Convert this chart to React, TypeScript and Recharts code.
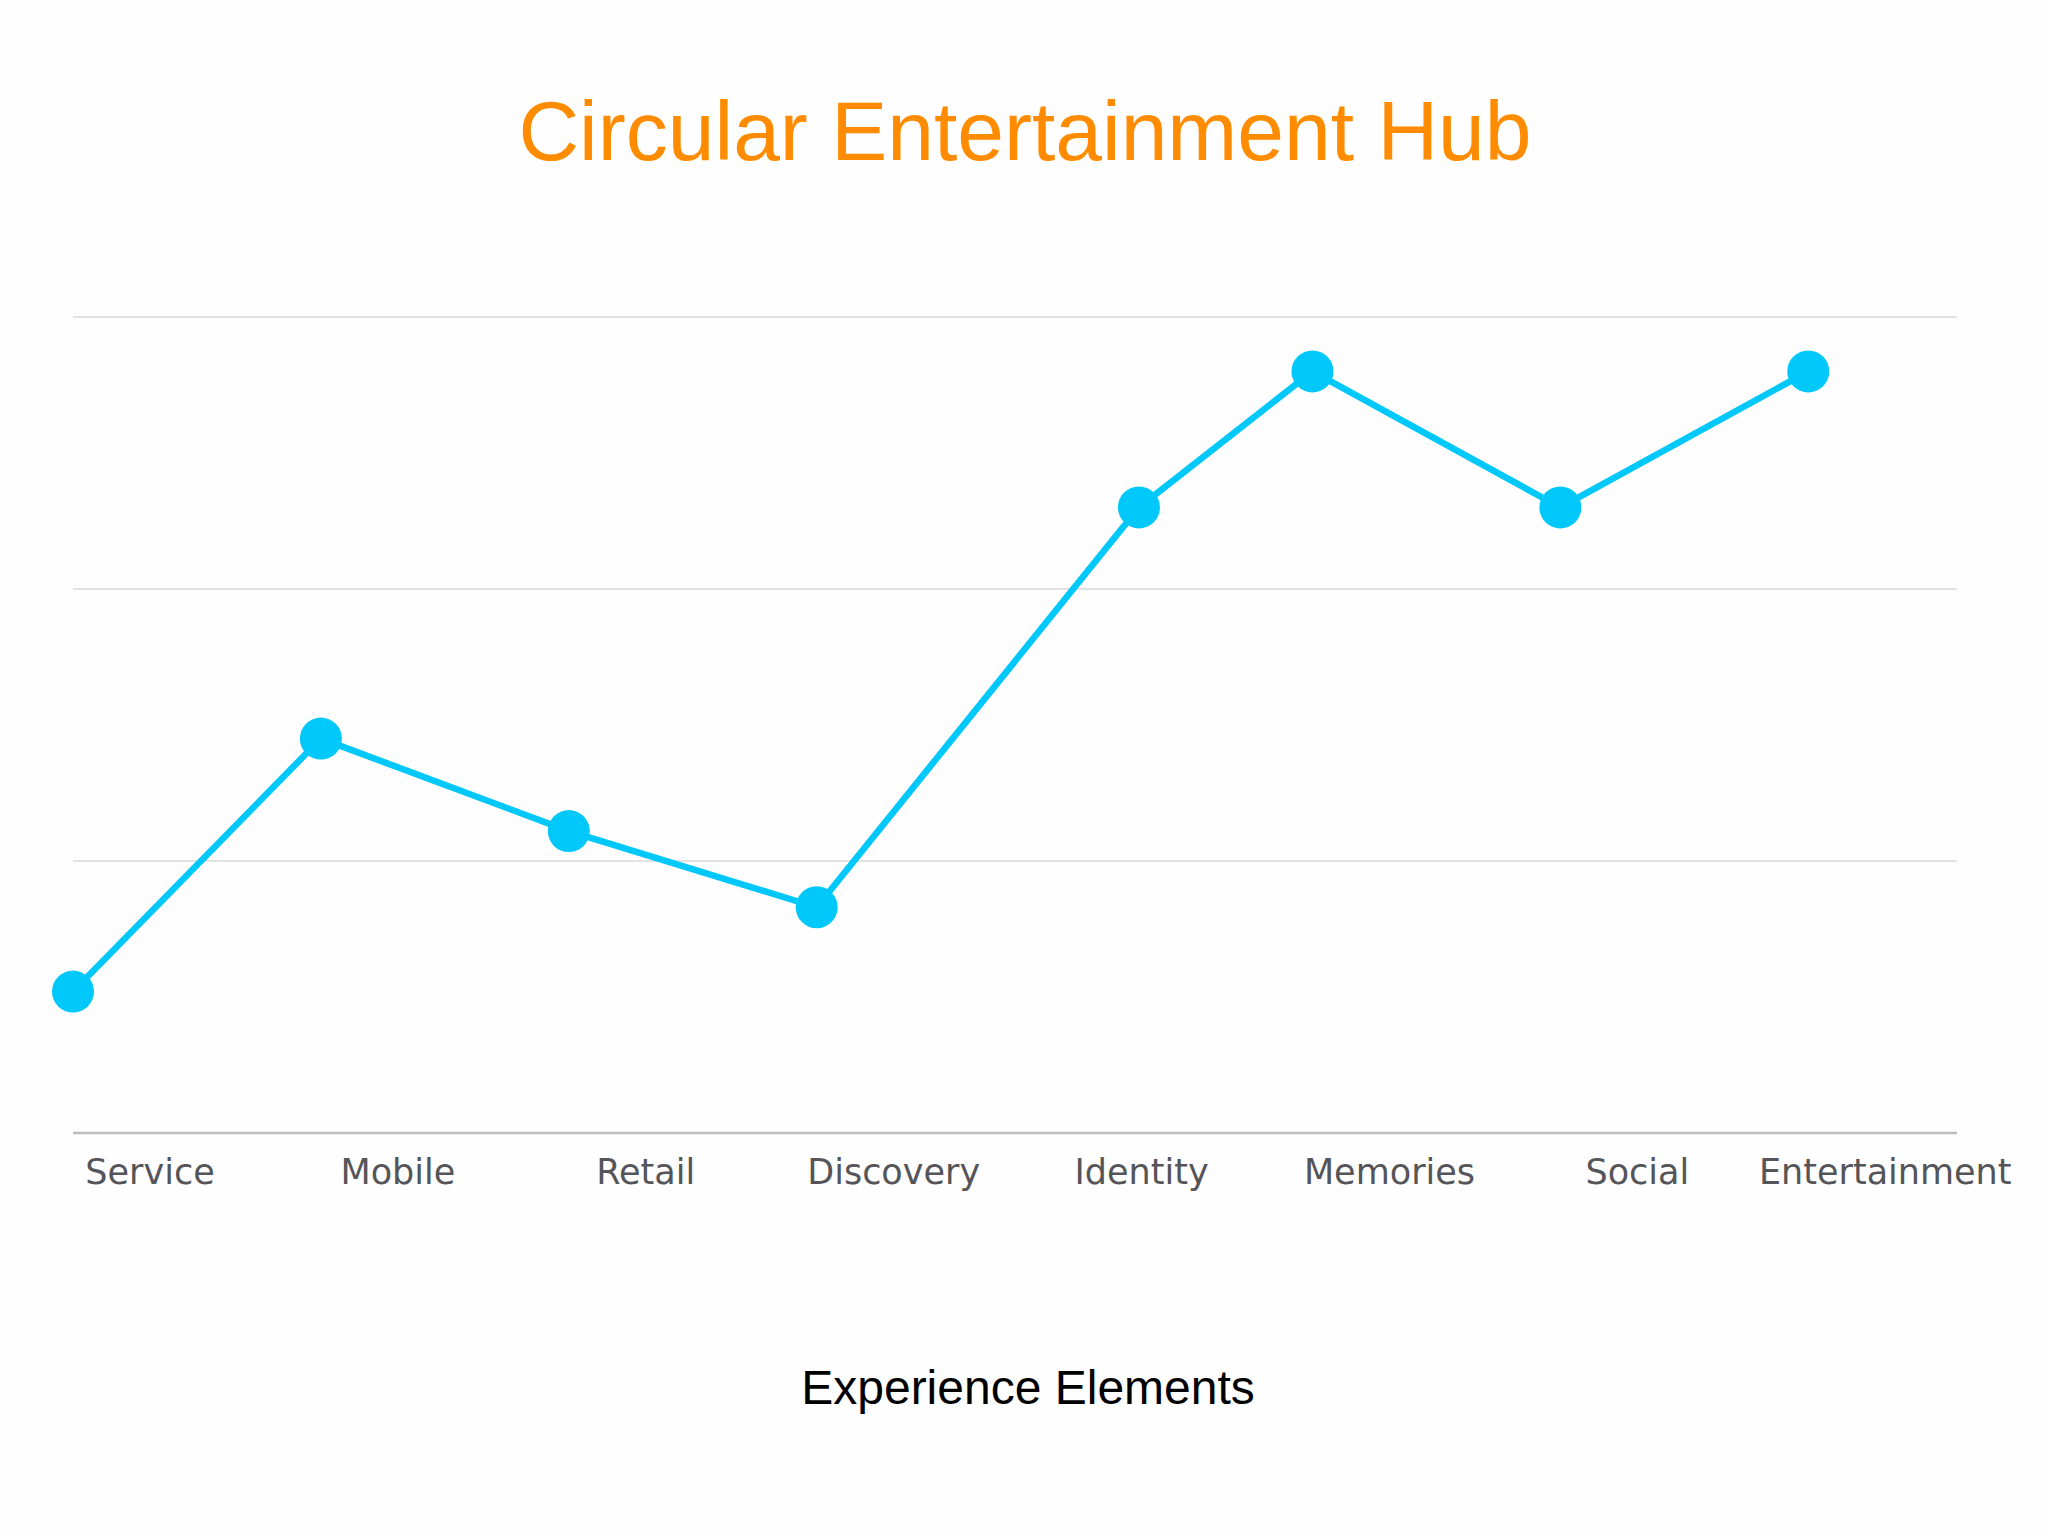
import React from 'react';
import { LineChart, Line, XAxis, YAxis, CartesianGrid } from 'recharts';

const categories = ['Service', 'Mobile', 'Retail', 'Discovery', 'Identity', 'Memories', 'Social', 'Entertainment'];
const positions = [0, 1, 2, 3, 4.3, 5, 6, 7];
const scores = [5.2, 14.5, 11.1, 8.3, 23, 28, 23, 28];
const yTicks = [0, 10, 20, 30];
const xTicks = [0, 1, 2, 3, 4, 5, 6, 7];

const data = categories.map((name, i) => ({ name, x: positions[i], value: scores[i] }));

const CategoryTick = (props: any) => {
  const { x, y, payload } = props;
  return (
    <text
      x={x + 77}
      y={y + 51}
      textAnchor="middle"
      fontFamily="'DejaVu Sans', Verdana, sans-serif"
      fontSize={35}
      fill="#555559"
    >
      {categories[payload.value]}
    </text>
  );
};

const App: React.FC = () => {
  return (
    <div style={{ position: 'absolute', left: 0, top: 0, width: 2048, height: 1536, background: '#fefefe' }}>
      <LineChart
        width={2048}
        height={1536}
        data={data}
        margin={{ top: 317, right: 91, bottom: 343, left: 73 }}
      >
        <CartesianGrid horizontal vertical={false} stroke="#d8d8d8" strokeWidth={1.5} />
        <XAxis
          dataKey="x"
          type="number"
          domain={[0, 7.6]}
          ticks={xTicks}
          height={60}
          tick={<CategoryTick />}
          tickLine={false}
          tickSize={0}
          tickMargin={0}
          axisLine={{ stroke: '#bdbdbd', strokeWidth: 2.5 }}
        />
        <YAxis hide type="number" domain={[0, 30]} ticks={yTicks} />
        <Line
          type="linear"
          dataKey="value"
          stroke="#00c8fa"
          strokeWidth={6.5}
          dot={{ r: 21, fill: '#00c8fa', stroke: 'none', strokeWidth: 0, clipDot: false }}
          activeDot={false}
          isAnimationActive={false}
        />
      </LineChart>
      <svg
        width={2048}
        height={1536}
        style={{ position: 'absolute', left: 0, top: 0, pointerEvents: 'none' }}
      >
        <text
          x={1025}
          y={160}
          textAnchor="middle"
          fontFamily="'Liberation Sans', Arial, sans-serif"
          fontSize={84}
          fill="#ff8c00"
        >
          Circular Entertainment Hub
        </text>
        <text
          x={1028}
          y={1404}
          textAnchor="middle"
          fontFamily="'Liberation Sans', Arial, sans-serif"
          fontSize={48}
          fill="#000000"
        >
          Experience Elements
        </text>
      </svg>
    </div>
  );
};

export default App;
